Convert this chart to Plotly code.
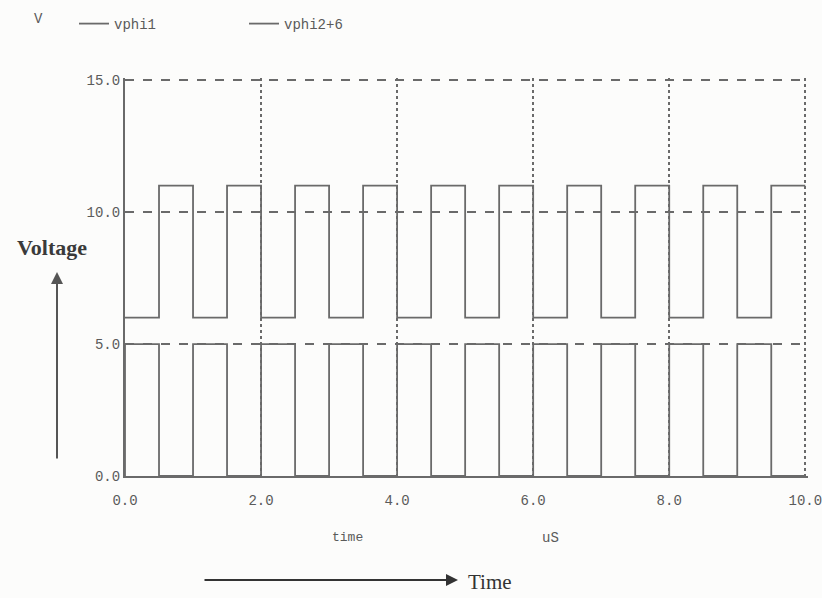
import plotly.graph_objects as go

# --- data (time in uS, voltage in V) ---
vphi1_t = [0.0, 0.0, 0.5, 1.0, 1.5, 2.0, 2.5, 3.0, 3.5, 4.0, 4.5,
           5.0, 5.5, 6.0, 6.5, 7.0, 7.5, 8.0, 8.5, 9.0, 9.5, 10.0]
vphi1_v = [0.0, 5.0, 0.0, 5.0, 0.0, 5.0, 0.0, 5.0, 0.0, 5.0, 0.0,
           5.0, 0.0, 5.0, 0.0, 5.0, 0.0, 5.0, 0.0, 5.0, 0.0, 0.0]

vphi2_t = [0.0, 0.5, 1.0, 1.5, 2.0, 2.5, 3.0, 3.5, 4.0, 4.5,
           5.0, 5.5, 6.0, 6.5, 7.0, 7.5, 8.0, 8.5, 9.0, 9.5, 10.0]
vphi2_v = [6.0, 11.0, 6.0, 11.0, 6.0, 11.0, 6.0, 11.0, 6.0, 11.0,
           6.0, 11.0, 6.0, 11.0, 6.0, 11.0, 6.0, 11.0, 6.0, 11.0, 11.0]

x_ticks = [0, 2, 4, 6, 8, 10]
x_tick_labels = ["0.0", "2.0", "4.0", "6.0", "8.0", "10.0"]
y_ticks = [0, 5, 10, 15]
y_tick_labels = ["0.0", "5.0", "10.0", "15.0"]

LINE = "#6a6a6a"
GRID = "#6a6a6a"
TXT = "#5a5a5a"
MONO = "Liberation Mono, Courier New, monospace"
SERIF = "Liberation Serif, Times New Roman, serif"

W, H = 822, 598
ML, MR, MT, MB = 125, 14, 78, 122
PW, PH = W - ML - MR, H - MT - MB


def px(x):
    return (x - ML) / PW


def py(y):
    return (H - MB - y) / PH


fig = go.Figure()
fig.add_trace(go.Scatter(x=vphi1_t, y=vphi1_v, mode="lines", name="vphi1",
                         line=dict(color=LINE, width=1.8, shape="hv")))
fig.add_trace(go.Scatter(x=vphi2_t, y=vphi2_v, mode="lines", name="vphi2+6",
                         line=dict(color=LINE, width=1.8, shape="hv")))

fig.update_layout(
    width=W, height=H,
    margin=dict(l=ML, r=MR, t=MT, b=MB, autoexpand=False),
    paper_bgcolor="#fcfcfb", plot_bgcolor="#fcfcfb",
    showlegend=True,
    legend=dict(orientation="h", xref="container", yref="container",
                x=74 / W, y=1 - 24 / H, xanchor="left", yanchor="middle",
                font=dict(family=MONO, size=14, color=TXT),
                entrywidth=125, entrywidthmode="pixels",
                bgcolor="rgba(0,0,0,0)", itemwidth=30),
    xaxis=dict(range=[0, 10.04], tickvals=x_ticks, ticktext=x_tick_labels,
               showgrid=True, gridcolor=GRID, griddash="dot", gridwidth=1.8,
               showline=True, linecolor=LINE, linewidth=2, zeroline=False,
               ticks="", ticklabelstandoff=10, ticklabeloverflow="allow",
               automargin=False,
               tickfont=dict(family=MONO, size=14, color=TXT)),
    yaxis=dict(range=[0, 15.08], tickvals=y_ticks, ticktext=y_tick_labels,
               showgrid=True, gridcolor=GRID, griddash="dash", gridwidth=1.5,
               showline=True, linecolor=LINE, linewidth=2, zeroline=False,
               ticks="", ticklabeloverflow="allow", automargin=False,
               tickfont=dict(family=MONO, size=14, color=TXT)),
)

annotations = [
    dict(text="V", x=px(38), y=py(19), font=dict(family=MONO, size=14, color=TXT)),
    dict(text="time", x=px(347), y=py(537), font=dict(family=MONO, size=13, color=TXT)),
    dict(text="uS", x=px(550), y=py(538), font=dict(family=MONO, size=14, color=TXT)),
    dict(text="Time", x=px(490), y=py(582), font=dict(family=SERIF, size=21, color="#333")),
    dict(text="<b>Voltage</b>", x=px(52), y=py(247), font=dict(family=SERIF, size=22, color="#3a3a3a")),
    # arrows
    dict(text="", x=px(458), y=py(580), ax=-255, ay=0, showarrow=True,
         arrowhead=2, arrowsize=1.2, arrowwidth=2, arrowcolor="#333"),
    dict(text="", x=px(57), y=py(272), ax=0, ay=188, showarrow=True,
         arrowhead=2, arrowsize=1.2, arrowwidth=2, arrowcolor="#555"),
]
for a in annotations:
    a.setdefault("showarrow", False)
    a["xref"] = "paper"
    a["yref"] = "paper"
    a["xanchor"] = "center"
    a["yanchor"] = "middle"
fig.update_layout(annotations=annotations)

fig.write_html("out.html")
